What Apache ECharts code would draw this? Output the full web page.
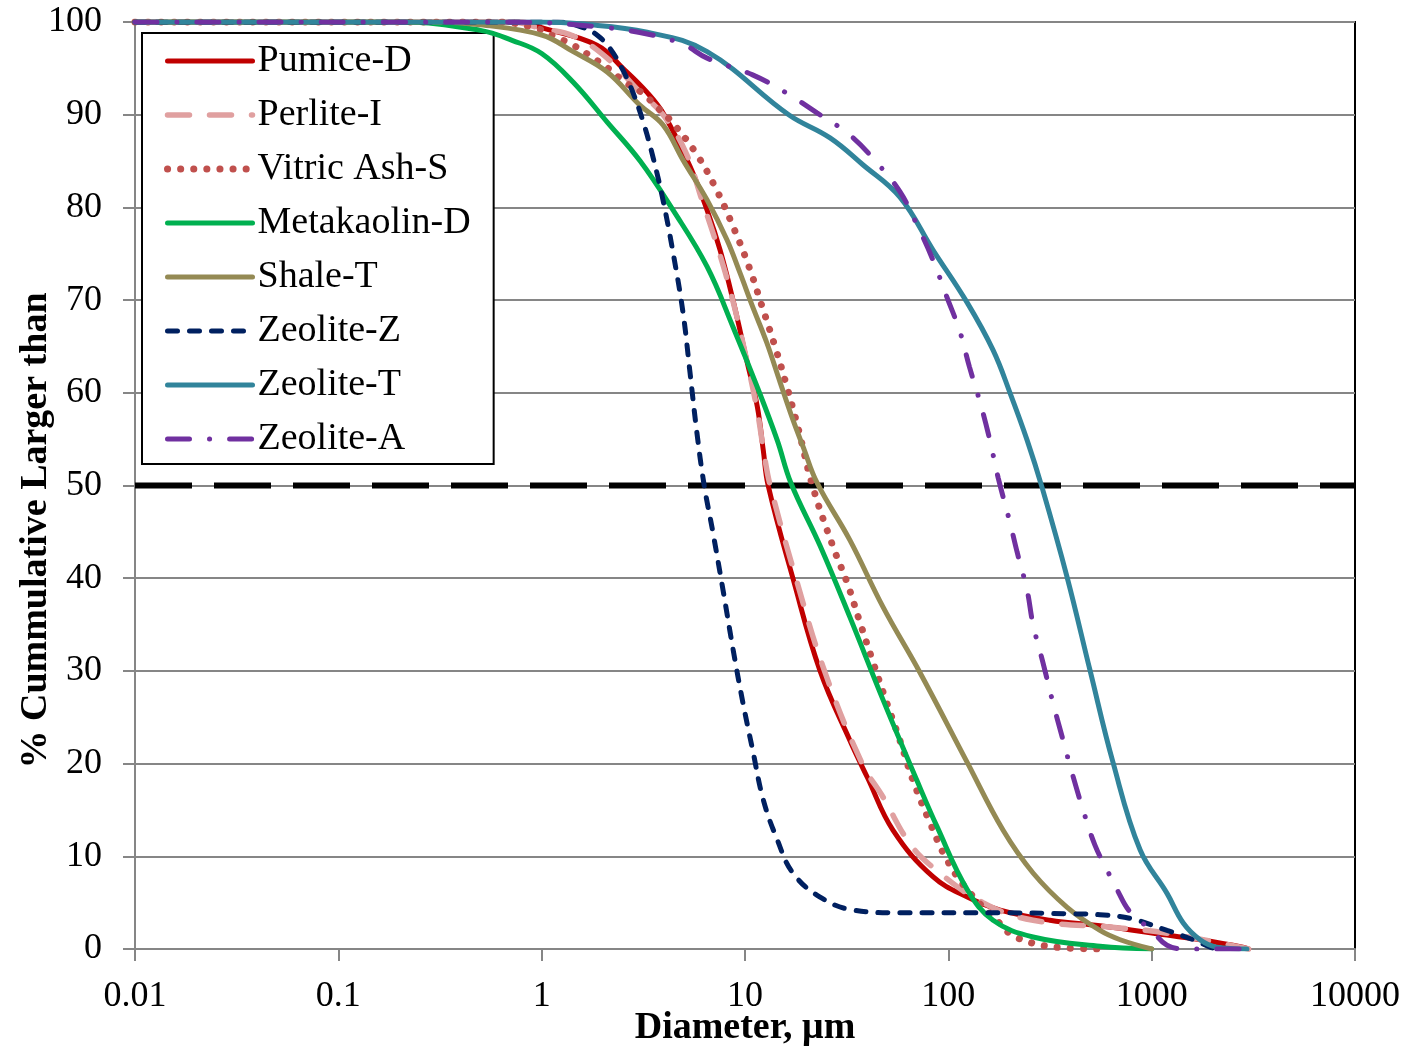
<!DOCTYPE html>
<html>
<head>
<meta charset="utf-8">
<script src="https://cdn.jsdelivr.net/npm/echarts@6/dist/echarts.min.js"></script>
<style>
html,body{margin:0;padding:0;background:#fff;}
#chart{width:1410px;height:1046px;}
</style>
</head>
<body>
<div id="chart"></div>
<script>
// ---- Data (diameter in µm, % cumulative larger than) ----
const seriesNames = ['Pumice-D','Perlite-I','Vitric Ash-S','Metakaolin-D','Shale-T','Zeolite-Z','Zeolite-T','Zeolite-A'];
const xTickLabels = ['0.01','0.1','1','10','100','1000','10000'];
const yTickLabels = ['0','10','20','30','40','50','60','70','80','90','100'];
const refLine50 = [[0.01,50],[10000,50]];

const pumiceD = [[0.01,100],[0.8,100],[1,99.4],[1.87,97.5],[2.51,95],[3.3,92.4],[4,90],[5.37,84.4],[6.51,79.7],[7.54,75.4],[8.73,70],[10.2,63.5],[11.5,58.5],[12.3,53.8],[13,50],[17.2,40],[23.4,30],[32.8,22.5],[40,18.5],[53.5,12.8],[84,7.8],[124,5.6],[180,4.2],[316,3.1],[557,2.5],[1190,1.5],[1730,1],[2810,0.2],[3000,0]];
const perliteI = [[0.01,100],[0.7,100],[1,99.3],[1.43,98.5],[2.1,96.1],[3.05,92.4],[3.95,90],[5.1,86],[6.1,81],[7.5,75],[8.7,70],[10.2,63.5],[11.5,58],[12.5,53],[13.3,50],[17.8,40],[24.6,30],[37.7,20],[47.7,16.4],[64.5,11.4],[84.1,8.8],[148,5],[261,3.1],[676,2.3],[1190,1.7],[3000,0]];
const vitricAshS = [[0.01,100],[0.6,100],[0.95,99.3],[1.14,98.5],[1.43,97.5],[1.77,96.2],[2.12,95],[2.57,93.5],[3.14,92.3],[3.7,90.8],[4.38,89.2],[5.8,85.7],[7.28,81.8],[8.83,77.7],[10.5,73.5],[12.1,69.4],[14.1,64.9],[16.1,60.6],[18.2,56.3],[21.6,49.8],[27.1,43.4],[31.8,39.5],[36.8,35.2],[42.7,30.9],[49.9,26.5],[57.8,22.5],[67,18.2],[81.3,13.6],[98.5,9.6],[124,6.4],[173,3.1],[218,1.2],[384,0.1],[600,0]];
const metakaolinD = [[0.01,100],[0.2,100],[0.5,99.1],[0.72,98],[1,96.6],[1.43,93.5],[2.1,89.2],[3.05,85],[4.43,79.7],[6.51,73.6],[8.73,67.1],[11.5,60.6],[14.4,54.9],[16.8,50.3],[23.4,43.5],[32.8,35.8],[47.7,26.9],[70,18.2],[88,13.2],[124,6.4],[166,3.1],[261,1.3],[557,0.3],[1000,0]];
const shaleT = [[0.01,100],[0.3,100],[0.5,99.7],[1,98.6],[1.43,96.8],[2.1,94.6],[3.05,91],[3.95,88.9],[4.96,85.1],[6.51,80.8],[8.15,76.5],[9.46,72.9],[10.9,69.3],[12.8,65.4],[14.9,61.1],[17.2,57.1],[19.3,54.2],[22.6,50.3],[32.8,44.1],[47.7,36.9],[72.6,29.8],[124,20.1],[186,12.8],[261,8.2],[384,4.5],[557,2],[700,1],[1000,0]];
const zeoliteZ = [[0.01,100],[1.2,100],[1.6,99.4],[1.87,98.6],[2.16,97.2],[2.51,94.8],[2.81,92.4],[3.16,89.2],[3.53,85.4],[3.95,80.8],[4.43,75.1],[4.96,68.6],[5.37,62.1],[5.8,55.7],[6.3,50],[6.96,44.9],[7.8,38.7],[8.74,32.3],[9.78,26.5],[10.9,21.5],[12.3,16.1],[14.4,11.8],[17.2,8.2],[23.4,5.6],[34,4.2],[57.8,3.9],[180,3.9],[384,3.8],[557,3.7],[783,3.3],[1190,2],[1600,1],[1940,0.2],[2100,0]];
const zeoliteT = [[0.01,100],[1,100],[1.55,99.8],[3.3,98.9],[6.51,96.8],[16.4,90],[26.2,87.5],[38,84.6],[57.8,81.1],[84.1,75.4],[124,69.7],[166,64.6],[201,60],[244,54.9],[289,49.8],[384,40.1],[497,30.1],[646,20.1],[877,10.7],[1190,6],[1430,2.8],[1730,1],[2090,0.2],[2940,0]];
const zeoliteA = [[0.01,100],[0.72,100],[1.87,99.5],[3.3,98.7],[4.96,97.6],[6.51,96.1],[10.9,94.3],[16.1,92.3],[22.6,90.2],[32.8,87.8],[44.6,84.8],[57.8,81.7],[70.2,78.1],[84.1,74.3],[98.5,70.3],[114,66.6],[127,62.8],[144,58.8],[160,54.9],[176,50.8],[201,46],[218,42.8],[244,38.7],[261,35],[292,30.9],[324,26.9],[367,22.5],[406,19],[460,15],[526,11.2],[604,8.5],[676,6.4],[783,4],[1000,2],[1190,0.4],[1500,0],[3000,0]];

const seriesData = [pumiceD, perliteI, vitricAshS, metakaolinD, shaleT, zeoliteZ, zeoliteT, zeoliteA];

// ---- Styles ----
const FONT = 'Liberation Serif';
const styles = [
  {color:'#C00000', width:5, type:'solid', cap:'round'},
  {color:'#E0A0A0', width:5.5, type:[22,20], cap:'round'},
  {color:'#C0504D', width:7, type:[0.1,13], cap:'round'},
  {color:'#00B050', width:5, type:'solid', cap:'round'},
  {color:'#948A54', width:5, type:'solid', cap:'round'},
  {color:'#002060', width:5, type:[10,12], cap:'round'},
  {color:'#31849B', width:5, type:'solid', cap:'round'},
  {color:'#7030A0', width:5, type:[22,20,0.1,20], cap:'round'}
];

const series = seriesNames.map((n,i)=>({
  name:n, type:'line', data:seriesData[i], showSymbol:false, symbol:'none',
  smooth:0.4, clip:true,
  lineStyle:{color:styles[i].color, width:styles[i].width, type:styles[i].type, cap:styles[i].cap},
  itemStyle:{color:styles[i].color},
  z:3+i
}));
series.unshift({
  name:'50%', type:'line', data:refLine50, showSymbol:false, symbol:'none', silent:true,
  lineStyle:{color:'#000', width:6, type:[57,22], cap:'butt'}, z:2
});

const legendData = seriesNames.map((n,i)=>({
  name:n,
  itemStyle:{opacity:0},
  lineStyle:{color:styles[i].color, width:styles[i].width, type:styles[i].type, cap:styles[i].cap}
}));

const chart = echarts.init(document.getElementById('chart'), null, {renderer:'canvas'});
chart.setOption({
  animation:false,
  backgroundColor:'#fff',
  grid:{left:135, right:55, top:22, bottom:97, show:true, borderColor:'#000', borderWidth:2,
        backgroundColor:'transparent', containLabel:false, outerBoundsMode:'none'},
  legend:{
    data:legendData, left:142, top:33, orient:'vertical',
    padding:[9,23,6,22], itemGap:16, itemWidth:85, itemHeight:30,
    backgroundColor:'#fff', borderColor:'#000', borderWidth:2,
    itemStyle:{opacity:0},
    textStyle:{fontFamily:FONT, fontSize:38, color:'#000'},
    selectedMode:false
  },
  xAxis:{
    type:'log', logBase:10, min:0.01, max:10000,
    name:'Diameter, μm', nameLocation:'middle', nameGap:60, nameMoveOverlap:false,
    nameTextStyle:{fontFamily:FONT, fontSize:38, fontWeight:'bold', color:'#000'},
    axisLine:{show:true, lineStyle:{color:'#868686', width:2}},
    axisTick:{show:true, length:12, inside:false, lineStyle:{color:'#868686', width:2}},
    minorTick:{show:false},
    splitLine:{show:false},
    axisLabel:{fontFamily:FONT, fontSize:36, color:'#000', margin:30,
      formatter:(v)=>xTickLabels[Math.round(Math.log10(v))+2]}
  },
  yAxis:{
    type:'value', min:0, max:100, interval:10,
    name:'% Cummulative Larger than', nameLocation:'middle', nameGap:80, nameMoveOverlap:false,
    nameTextStyle:{fontFamily:FONT, fontSize:38, fontWeight:'bold', color:'#000', padding:[0,90,0,0]},
    axisLine:{show:true, lineStyle:{color:'#868686', width:2}},
    axisTick:{show:true, length:12, lineStyle:{color:'#868686', width:2}},
    splitLine:{show:true, lineStyle:{color:'#868686', width:2}},
    axisLabel:{fontFamily:FONT, fontSize:36, color:'#000', margin:33,
      formatter:(v)=>yTickLabels[Math.round(v/10)]}
  },
  series:series
});
</script>
</body>
</html>
